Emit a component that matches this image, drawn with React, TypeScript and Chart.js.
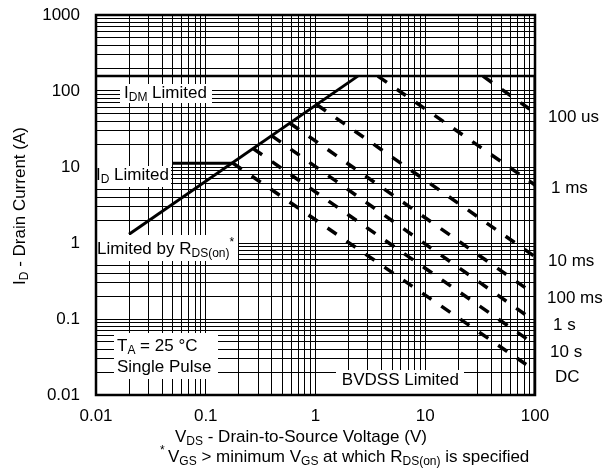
import { useEffect, useRef } from 'react';
import { Chart, registerables } from 'chart.js';

Chart.register(...registerables);

const FONT = '"Liberation Sans", Arial, Helvetica, sans-serif';
const FS = 17;

// tick labels
const xTickLabels = ['0.01', '0.1', '1', '10', '100'];
const yTickLabels = ['0.01', '0.1', '1', '10', '100', '1000'];

// limit lines (V, A)
const idmLimit = [{ x: 0.01, y: 157 }, { x: 100, y: 157 }];
const idLimit = [{ x: 0.05, y: 11.2 }, { x: 0.174, y: 11.2 }];
const rdsLimit = [{ x: 0.02, y: 1.3 }, { x: 2.43, y: 157 }];
const bvdssLimit = [{ x: 100, y: 157 }, { x: 100, y: 0.01 }];

// pulse-duration lines (V, A)
const pulse100us = [{ x: 33.6, y: 157 }, { x: 100, y: 51.5 }];
const pulse1ms = [{ x: 3.7, y: 157 }, { x: 100, y: 5.8 }];
const pulse10ms = [{ x: 1.03, y: 66 }, { x: 100, y: 0.66 }];
const pulse100ms = [{ x: 0.585, y: 37.7 }, { x: 100, y: 0.21 }];
const pulse1s = [{ x: 0.4, y: 25.7 }, { x: 100, y: 0.093 }];
const pulse10s = [{ x: 0.27, y: 17.5 }, { x: 100, y: 0.046 }];
const pulseDC = [{ x: 0.176, y: 11.3 }, { x: 100, y: 0.021 }];

const pulseLabels = ['100 us', '1 ms', '10 ms', '100 ms', '1 s', '10 s', 'DC'];
const pulseLabelPos = [
  [548, 117],
  [551, 188],
  [548, 261],
  [547, 298],
  [553, 325],
  [550, 352],
  [555, 377],
];

function logGrid(minExp: number, maxExp: number): number[] {
  const out: number[] = [];
  for (let e = minExp; e < maxExp; e++) {
    for (let m = 1; m <= 9; m++) out.push(Number((m * Math.pow(10, e)).toPrecision(4)));
  }
  out.push(Number(Math.pow(10, maxExp).toPrecision(4)));
  return out;
}

function labelFor(v: number, labels: string[]): string {
  const e = Math.log10(v);
  if (Math.abs(e - Math.round(e)) > 1e-6) return '';
  const found = labels.find((l) => Math.abs(Math.log10(Number(l)) - e) < 1e-6);
  return found ?? '';
}

type Run = { t: string; sub?: boolean; sup?: boolean };

function drawRich(
  ctx: CanvasRenderingContext2D,
  runs: Run[],
  x: number,
  y: number,
  size: number,
  align: 'left' | 'center' | 'right' = 'left'
) {
  const main = `${size}px ${FONT}`;
  const small = `${Math.round(size * 0.68)}px ${FONT}`;
  let w = 0;
  for (const r of runs) {
    ctx.font = r.sub || r.sup ? small : main;
    w += ctx.measureText(r.t).width;
  }
  let cx = align === 'left' ? x : align === 'center' ? x - w / 2 : x - w;
  ctx.textAlign = 'left';
  ctx.textBaseline = 'middle';
  ctx.fillStyle = '#000';
  for (const r of runs) {
    ctx.font = r.sub || r.sup ? small : main;
    const dy = r.sub ? size * 0.3 : r.sup ? -size * 0.35 : 0;
    ctx.fillText(r.t, cx, y + dy);
    cx += ctx.measureText(r.t).width;
  }
}

const overlayPlugin = {
  id: 'soaOverlay',
  afterDatasetsDraw(chart: any) {
    const ctx: CanvasRenderingContext2D = chart.ctx;
    const a = chart.chartArea;
    ctx.save();
    // white label boxes
    ctx.fillStyle = '#fff';
    const boxes = [
      [120, 84, 92, 19],
      [97, 166, 74, 21],
      [97, 235, 141, 26],
      [114, 333, 104, 46],
      [336, 370, 128, 25],
    ];
    for (const b of boxes) ctx.fillRect(b[0], b[1], b[2], b[3]);

    drawRich(ctx, [{ t: 'I' }, { t: 'DM', sub: true }, { t: ' Limited' }], 124, 93, FS);
    drawRich(ctx, [{ t: 'I' }, { t: 'D', sub: true }, { t: ' Limited' }], 96, 175, FS);
    drawRich(
      ctx,
      [{ t: 'Limited by R' }, { t: 'DS(on)', sub: true }, { t: '*', sup: true }],
      97,
      249,
      FS
    );
    drawRich(ctx, [{ t: 'T' }, { t: 'A', sub: true }, { t: ' = 25 °C' }], 117, 346, FS);
    drawRich(ctx, [{ t: 'Single Pulse' }], 117, 367, FS);
    drawRich(ctx, [{ t: 'BVDSS Limited' }], 459, 380, FS, 'right');

    // plot frame
    ctx.strokeStyle = '#000';
    ctx.lineWidth = 2.5;
    ctx.strokeRect(a.left, a.top, a.right - a.left, a.bottom - a.top);
    ctx.restore();
  },
  afterDraw(chart: any) {
    const ctx: CanvasRenderingContext2D = chart.ctx;
    ctx.save();
    pulseLabels.forEach((l, i) => {
      drawRich(ctx, [{ t: l }], pulseLabelPos[i][0], pulseLabelPos[i][1], FS);
    });
    drawRich(
      ctx,
      [{ t: 'V' }, { t: 'DS', sub: true }, { t: ' - Drain-to-Source Voltage (V)' }],
      175,
      437,
      FS
    );
    drawRich(
      ctx,
      [
        { t: '* ', sup: true },
        { t: 'V' },
        { t: 'GS', sub: true },
        { t: ' > minimum V' },
        { t: 'GS', sub: true },
        { t: ' at which R' },
        { t: 'DS(on)', sub: true },
        { t: ' is specified' },
      ],
      160,
      457,
      FS
    );
    ctx.translate(20, 206);
    ctx.rotate(-Math.PI / 2);
    drawRich(ctx, [{ t: 'I' }, { t: 'D', sub: true }, { t: ' - Drain Current (A)' }], 0, 0, FS, 'center');
    ctx.restore();
  },
};

export default function App() {
  const ref = useRef<HTMLCanvasElement | null>(null);
  useEffect(() => {
    if (!ref.current) return;
    Chart.defaults.font.family = FONT;
    Chart.defaults.color = '#000';
    const solid = (data: any[], w: number) => ({
      data,
      showLine: true,
      borderColor: '#000',
      borderWidth: w,
      pointRadius: 0,
      fill: false,
      borderCapStyle: 'butt',
    });
    const dashed = (data: any[]) => ({
      data,
      showLine: true,
      borderColor: '#000',
      borderWidth: 3.5,
      borderDash: [11, 12],
      pointRadius: 0,
      fill: false,
      borderCapStyle: 'butt',
    });
    const xGrid = logGrid(-2, 2);
    const yGrid = logGrid(-2, 3);
    const chart = new Chart(ref.current, {
      type: 'scatter',
      data: {
        datasets: [
          solid(idmLimit, 2.5),
          solid(idLimit, 3),
          solid(rdsLimit, 3),
          solid(bvdssLimit, 3),
          dashed(pulse100us),
          dashed(pulse1ms),
          dashed(pulse10ms),
          dashed(pulse100ms),
          dashed(pulse1s),
          dashed(pulse10s),
          dashed(pulseDC),
        ] as any,
      },
      options: {
        animation: false,
        responsive: false,
        events: [],
        layout: { padding: { top: 15, right: 68, left: 0, bottom: 0 } },
        plugins: { legend: { display: false }, tooltip: { enabled: false } },
        scales: {
          x: {
            type: 'logarithmic',
            position: 'bottom',
            min: 0.01,
            max: 100,
            afterBuildTicks: (s: any) => {
              s.ticks = xGrid.map((v) => ({ value: v }));
            },
            afterFit: (s: any) => {
              s.height = 74;
              s.paddingLeft = 0;
              s.paddingRight = 0;
            },
            ticks: {
              autoSkip: false,
              maxRotation: 0,
              minRotation: 0,
              padding: 11,
              color: '#000',
              font: { size: FS, family: FONT },
              callback: (v: any) => labelFor(Number(v), xTickLabels),
            },
            grid: { color: '#000', lineWidth: 1, drawTicks: false },
            border: { display: false },
          },
          y: {
            type: 'logarithmic',
            position: 'left',
            min: 0.01,
            max: 1000,
            afterBuildTicks: (s: any) => {
              s.ticks = yGrid.map((v) => ({ value: v }));
            },
            afterFit: (s: any) => {
              s.width = 96;
              s.paddingTop = 0;
              s.paddingBottom = 0;
            },
            ticks: {
              autoSkip: false,
              padding: 16,
              color: '#000',
              font: { size: FS, family: FONT },
              callback: (v: any) => labelFor(Number(v), yTickLabels),
            },
            grid: { color: '#000', lineWidth: 1, drawTicks: false },
            border: { display: false },
          },
        },
      } as any,
      plugins: [overlayPlugin],
    });
    return () => chart.destroy();
  }, []);
  return (
    <div style={{ position: 'absolute', left: 0, top: 0, width: 603, height: 469, background: '#fff' }}>
      <canvas ref={ref} width={603} height={469} style={{ display: 'block' }} />
    </div>
  );
}
